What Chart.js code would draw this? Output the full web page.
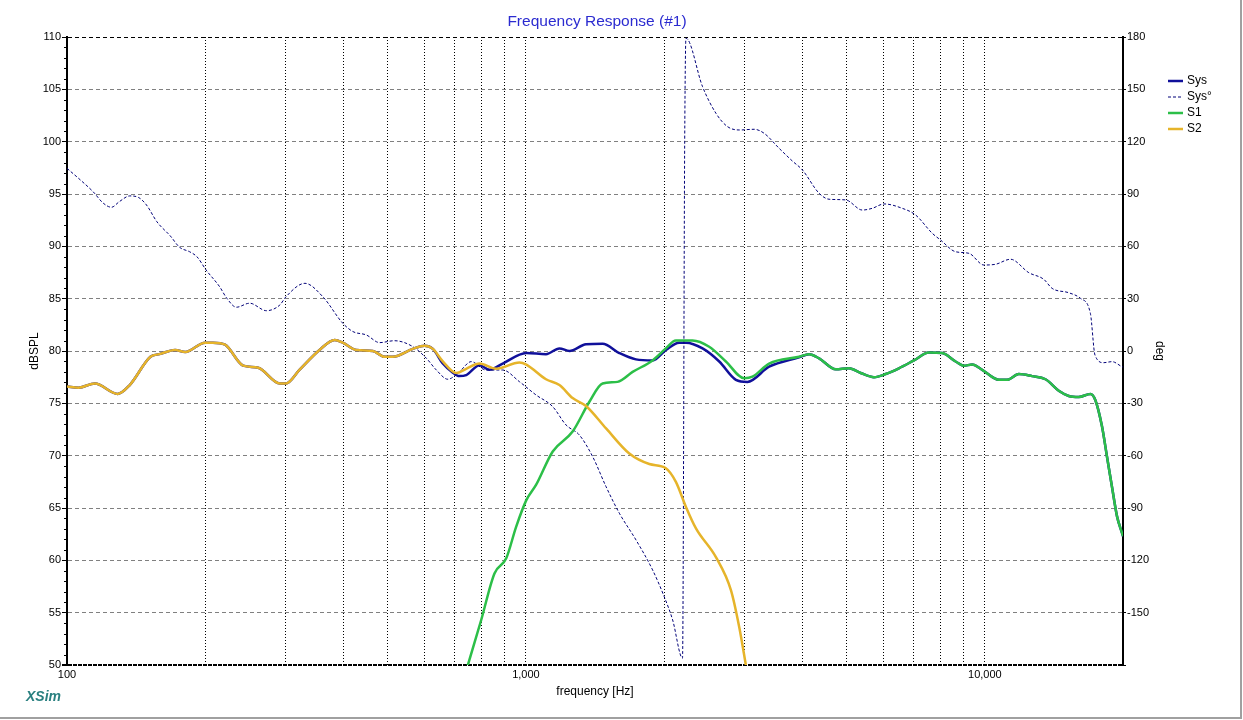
<!DOCTYPE html>
<html>
<head>
<meta charset="utf-8">
<script src="https://cdn.jsdelivr.net/npm/chart.js@4.4.1/dist/chart.umd.min.js"></script>
<style>
  body { margin: 0; background: #fff; }
  canvas { display: block; }
</style>
</head>
<body>
<canvas id="myChart" width="1243" height="720"></canvas>
<script>
// values
const sysFreq = [100,106,115,129,137,152,159,172,181,200,208,221,242,261,291,300,321,355,383,399,427,464,492,513,567,601,627,659,690,716,741,792,833,890,1002,1106,1183,1244,1352,1469,1598,1737,1888,2018,2158,2232,2426,2638,2868,3039,3388,3937,4140,4354,4733,5058,5362,5733,6080,6498,7007,7553,8075,8636,9001,9385,9867,10728,11183,11858,12677,13556,14488,15235,16019,16980,17413,17998,18458,18927,19410,19905,20000];
const sysDb = [76.6,76.5,76.9,75.9,76.75,79.45,79.7,80.1,79.9,80.8,80.8,80.6,78.6,78.4,76.9,76.9,78.2,80.1,81.05,80.8,80.1,80.0,79.45,79.45,80.2,80.5,80.2,78.8,78.0,77.6,77.7,78.65,78.2,78.8,79.8,79.7,80.25,80.0,80.65,80.7,79.8,79.2,79.1,80.1,80.8,80.8,80.25,79.0,77.25,77.05,78.5,79.4,79.7,79.3,78.25,78.35,77.9,77.5,77.8,78.35,79.1,79.85,79.8,79.0,78.6,78.7,78.2,77.25,77.25,77.8,77.6,77.3,76.2,75.7,75.6,75.9,75.3,72.8,69.9,67.0,64.2,62.6,62.3];

const phaseFreq = [100,107,114,120,125,130,137,143,149,157,168,176,185,192,201,215,223,234,250,272,291,300,330,361,399,420,449,480,517,567,607,638,676,716,760,819,890,968,1052,1144,1223,1307,1398,1495,1598,1737,1888,2001,2088,2194,2218,2232,2426,2594,2750,2915,3143,3304,3562,3807,4003,4354,4576,4976,5408,5685,6029,6607,7063,7679,8009,8636,9231,9950,10548,11373,12467,13441,14015,15235,16156,16980,17377,18155,18927,19905,20000];
const phaseDeg = [104.7,98.0,91.3,84.7,82.4,85.6,88.9,88.1,83.7,74.1,65.9,59.4,56.9,54.0,46.4,36.9,30.2,25.1,27.4,23.1,26.4,31.1,38.8,31.1,15.9,11.1,9.2,4.8,5.9,2.5,-4.2,-10.9,-16.2,-11.9,-6.1,-10.9,-10.9,-17.6,-25.2,-31.9,-42.4,-48.1,-60.6,-77.8,-93.0,-108.3,-125.5,-140.8,-154.2,-176.1,120,179.3,151.5,136.3,128.6,126.7,127.1,124.8,116.2,108.9,103.8,90.4,87.0,86.6,80.8,81.8,84.3,81.8,78.0,67.5,63.6,56.9,56.0,49.3,49.7,52.6,44.9,41.1,35.9,33.4,30.2,21.6,-2.3,-6.7,-6.1,-9.0,-9.2];

const s1Freq = [745,799,854,906,952,1002,1052,1144,1264,1375,1469,1584,1708,1888,2018,2122,2307,2508,2727,2989,3116,3388,3937,4140,4354,4733,5058,5362,5733,6080,6498,7007,7553,8075,8636,9001,9385,9867,10728,11183,11858,12677,13556,14488,15235,16019,16980,17413,17998,18458,18927,19410,19905,20000];
const s1Db = [49.8,54.3,58.75,60.2,63.2,65.75,67.2,70.4,72.3,75.15,76.9,77.05,78.0,79.1,80.25,81.0,81.0,80.4,79.0,77.4,77.55,78.8,79.45,79.7,79.3,78.25,78.35,77.9,77.5,77.8,78.35,79.1,79.85,79.8,79.0,78.6,78.7,78.2,77.25,77.25,77.8,77.6,77.3,76.2,75.7,75.6,75.9,75.3,72.8,69.9,67.0,64.2,62.6,62.3];

const s2Freq = [100,106,115,129,137,152,159,172,181,200,208,221,242,261,291,300,321,355,383,399,427,464,492,513,567,601,627,659,705,741,792,861,968,1002,1106,1183,1264,1352,1495,1680,1857,2018,2122,2232,2347,2594,2797,2915,3020];
const s2Db = [76.6,76.5,76.9,75.9,76.75,79.45,79.7,80.1,79.9,80.8,80.8,80.6,78.6,78.4,76.9,76.9,78.2,80.1,81.05,80.8,80.1,80.0,79.45,79.45,80.2,80.5,80.2,79.0,77.9,78.3,78.8,78.3,78.9,78.7,77.3,76.75,75.5,74.75,72.6,70.2,69.2,68.8,67.5,65.1,63.05,60.3,57.15,53.65,49.8];

const xGridTicks = [100,200,300,400,500,600,700,800,900,1000,2000,3000,4000,5000,6000,7000,8000,9000,10000,20000];
const xLabelValues = [100, 1000, 10000];
const xLabelText = ['100', '1,000', '10,000'];

const chartTitle = 'Frequency Response (#1)';
const legendNames = ['Sys', 'Sys°', 'S1', 'S2'];
const colSys = '#10109a', colPhase = '#000078', colS1 = '#2cbf48', colS2 = '#e6b42a';

const pts = (fs, vs) => fs.map((f, i) => ({x: f, y: vs[i]}));
const FONT = '"Liberation Sans", Arial, sans-serif';
Chart.defaults.font.family = FONT;
Chart.defaults.color = '#000';

const extras = {
  id: 'extras',
  afterDraw(chart) {
    const ctx = chart.ctx;
    const area = chart.chartArea;
    const yS = chart.scales.y;
    ctx.save();
    // title, centred over the plot area
    ctx.font = '15.5px ' + FONT;
    ctx.fillStyle = '#2b2bd0';
    ctx.textAlign = 'center';
    ctx.textBaseline = 'middle';
    ctx.fillText(chartTitle, (area.left + area.right) / 2 + 2, 22);
    ctx.textAlign = 'left';
    // minor ticks on the dB axis
    ctx.strokeStyle = '#000';
    ctx.lineWidth = 1;
    for (let v = 51; v < 110; v++) {
      if (v % 5 === 0) continue;
      const py = Math.round(yS.getPixelForValue(v)) + 0.5;
      ctx.beginPath(); ctx.moveTo(yS.right - 3, py); ctx.lineTo(yS.right, py); ctx.stroke();
    }
    // legend
    const items = chart.data.datasets;
    ctx.font = '12px ' + FONT;
    items.forEach((ds, i) => {
      const y = 81 + i * 16;
      ctx.beginPath();
      ctx.setLineDash(ds.borderDash || []);
      ctx.lineWidth = ds.borderWidth;
      ctx.strokeStyle = ds.borderColor;
      ctx.moveTo(1168, y); ctx.lineTo(1183, y); ctx.stroke();
      ctx.setLineDash([]);
      ctx.fillStyle = '#000';
      ctx.fillText(legendNames[i], 1187, y);
    });
    // XSim mark
    ctx.font = 'italic bold 14px ' + FONT;
    ctx.fillStyle = '#2a8080';
    ctx.fillText('XSim', 26, 697);
    // outer frame
    ctx.strokeStyle = '#a0a0a0';
    ctx.lineWidth = 2;
    ctx.beginPath(); ctx.moveTo(0, 718); ctx.lineTo(1241, 718); ctx.lineTo(1241, 0); ctx.stroke();
    ctx.restore();
  }
};

const lineBase = {pointRadius: 0, fill: false, cubicInterpolationMode: 'monotone'};

new Chart('myChart', {
  type: 'line',
  data: {
    datasets: [
      {...lineBase, label: 'Sys', data: pts(sysFreq, sysDb), borderColor: colSys, borderWidth: 2.5, yAxisID: 'y', order: 3},
      {...lineBase, label: 'Sys°', data: pts(phaseFreq, phaseDeg), borderColor: colPhase, borderWidth: 1, borderDash: [3, 2], yAxisID: 'y1', order: 2},
      {...lineBase, label: 'S1', data: pts(s1Freq, s1Db), borderColor: colS1, borderWidth: 2.5, yAxisID: 'y', order: 1},
      {...lineBase, label: 'S2', data: pts(s2Freq, s2Db), borderColor: colS2, borderWidth: 2.5, yAxisID: 'y', order: 0}
    ]
  },
  options: {
    responsive: false,
    animation: false,
    events: [],
    layout: {padding: {top: 37, left: 0, right: 0, bottom: 0}},
    plugins: {
      legend: {display: false},
      tooltip: {enabled: false},
      title: {display: false}
    },
    scales: {
      x: {
        type: 'logarithmic',
        min: 100, max: 20000,
        afterBuildTicks: s => { s.ticks = xGridTicks.map(v => ({value: v})); },
        afterFit: s => { s.height = 55; },
        ticks: {
          autoSkip: false, maxRotation: 0, padding: 3,
          font: {size: 11},
          callback: v => { const i = xLabelValues.indexOf(v); return i < 0 ? '' : xLabelText[i]; }
        },
        grid: {color: '#000', lineWidth: 1, drawTicks: false},
        border: {display: false, dash: [1, 2]},
        title: {display: true, text: 'frequency [Hz]', font: {size: 12}, padding: {top: 0, bottom: 21}}
      },
      y: {
        type: 'linear', position: 'left',
        min: 50, max: 110,
        afterFit: s => { s.width = 67; },
        ticks: {stepSize: 5, padding: 1, font: {size: 11}},
        grid: {
          color: c => (c.tick && (c.tick.value === 50 || c.tick.value === 110)) ? '#000' : '#808080',
          lineWidth: c => (c.tick && c.tick.value === 50) ? 2 : 1,
          tickLength: 5, tickColor: '#000', tickBorderDash: []
        },
        border: {
          display: true, color: '#000', width: 2,
          dash: c => c.tick ? (c.tick.value === 50 ? [4, 1] : [4, 3]) : []
        },
        title: {display: true, text: 'dBSPL', font: {size: 12}, padding: {top: 27, bottom: 0}}
      },
      y1: {
        type: 'linear', position: 'right',
        min: -180, max: 180,
        afterFit: s => { s.width = 120; },
        ticks: {stepSize: 30, padding: 1, font: {size: 11}, callback: v => v === -180 ? '' : v},
        grid: {drawOnChartArea: false, tickLength: 3, tickColor: '#000'},
        border: {display: true, color: '#000', width: 2},
        title: {display: true, text: 'deg', font: {size: 12}, padding: {top: 76, bottom: 0}}
      }
    }
  },
  plugins: [extras]
});
</script>
</body>
</html>
